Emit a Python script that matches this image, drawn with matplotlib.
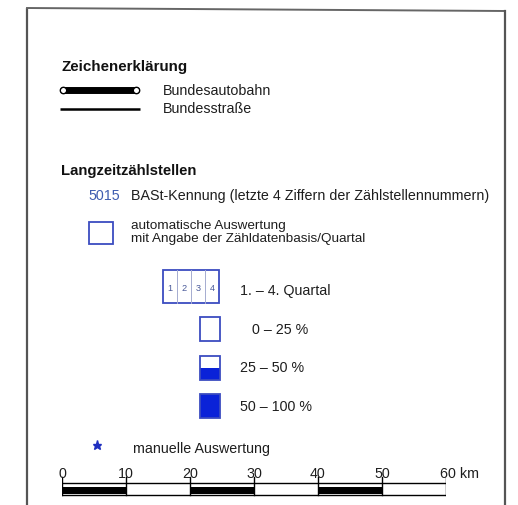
import matplotlib
matplotlib.use("Agg")
import matplotlib.pyplot as plt
from matplotlib.patches import Rectangle

plt.rcParams['font.family'] = ['Liberation Sans', 'DejaVu Sans']

# ---- data ----
title_main = "Zeichenerklärung"
road_labels = ["Bundesautobahn", "Bundesstraße"]
section_title = "Langzeitzählstellen"
id_example = "5015"
id_text = "BASt-Kennung (letzte 4 Ziffern der Zählstellennummern)"
auto_text = ["automatische Auswertung", "mit Angabe der Zähldatenbasis/Quartal"]
quarters = ["1", "2", "3", "4"]
quarter_text = "1. – 4. Quartal"
class_labels = ["0 – 25 %", "25 – 50 %", "50 – 100 %"]
class_fill = [0.0, 0.5, 1.0]          # share of symbol filled
manual_text = "manuelle Auswertung"
scale_km = [0, 10, 20, 30, 40, 50, 60]
scale_labels = ["0", "10", "20", "30", "40", "50", "60 km"]

TXT = "#1e1e1e"
BLUE_LINE = "#3b4cc0"
BLUE_FILL = "#0a22d8"
BLUE_TXT = "#3f5db0"

W, H = 518, 506
fig = plt.figure(figsize=(W / 100, H / 100), dpi=100)
fig.patch.set_facecolor("white")
ax = fig.add_axes([0, 0, 1, 1])
ax.set_xlim(0, W)
ax.set_ylim(H, 0)
ax.axis("off")

# frame
ax.plot([27, 27], [9, H + 5], color="#555555", lw=1.6, solid_capstyle="butt")
ax.plot([27, 505], [9, 12], color="#666666", lw=1.4)
ax.plot([505, 505], [12, H + 5], color="#555555", lw=1.6)

fs = 10.3
ax.text(61, 67, title_main, fontsize=10.9, fontweight="bold", color="#111111", va="center", ha="left")

# Bundesautobahn symbol
ax.plot([63, 136], [91, 91], color="black", lw=5.0, solid_capstyle="round", zorder=2)
ax.plot([63, 136], [91, 91], ls="none", marker="o", ms=4.6, mfc="white", mec="black", mew=1.0, zorder=3)
ax.text(163, 91, road_labels[0], fontsize=fs, color=TXT, va="center", ha="left")
# Bundesstrasse
ax.plot([60, 140], [110, 110], color="black", lw=1.8, solid_capstyle="butt")
ax.text(163, 109, road_labels[1], fontsize=fs, color=TXT, va="center", ha="left")

ax.text(61, 171, section_title, fontsize=10.7, fontweight="bold", color="#111111", va="center", ha="left")
ax.text(88, 196, id_example, fontsize=fs, color=BLUE_TXT, va="center", ha="left")
ax.text(131, 196, id_text, fontsize=fs, color=TXT, va="center", ha="left")

# automatic square
ax.add_patch(Rectangle((89, 223), 24, 22, fill=False, ec=BLUE_LINE, lw=1.3))
ax.text(131, 226, auto_text[0], fontsize=fs - 0.6, color=TXT, va="center", ha="left")
ax.text(131, 239, auto_text[1], fontsize=fs - 0.6, color=TXT, va="center", ha="left")

# quarter box
qx0, qy0, qw, qh = 163, 271, 56, 33
cw = qw / len(quarters)
for i, q in enumerate(quarters):
    if i > 0:
        ax.plot([qx0 + i * cw] * 2, [qy0, qy0 + qh], color="#a5acd0", lw=0.7)
    ax.text(qx0 + (i + 0.5) * cw, qy0 + qh / 2 + 1, q, fontsize=6.6, color="#4a5a9a",
            ha="center", va="center")
ax.add_patch(Rectangle((qx0, qy0), qw, qh, fill=False, ec=BLUE_LINE, lw=1.3))
ax.text(240, 291, quarter_text, fontsize=fs, color=TXT, va="center", ha="left")

# classes
cy = [318, 357, 395]
tx = [252, 240, 240]
ty = [330, 368, 407]
for y0, f, lab, x, yt in zip(cy, class_fill, class_labels, tx, ty):
    h = 24
    if f > 0:
        ax.add_patch(Rectangle((200, y0 + h * (1 - f)), 20, h * f, fc=BLUE_FILL, ec="none"))
    ax.add_patch(Rectangle((200, y0), 20, h, fill=False, ec=BLUE_LINE, lw=1.3))
    ax.text(x, yt, lab, fontsize=fs, color=TXT, va="center", ha="left")

# manual
ax.plot([97], [446], ls="none", marker="*", ms=6.5, color="#1f2fc0")
ax.text(133, 449, manual_text, fontsize=fs, color=TXT, va="center", ha="left")

# scale bar in km coordinates
sax = fig.add_axes([62 / W, 0, 384 / W, 1])
sax.set_xlim(scale_km[0], scale_km[-1])
sax.set_ylim(H, 0)
sax.axis("off")
for i in range(len(scale_km) - 1):
    a, b = scale_km[i], scale_km[i + 1]
    if i % 2 == 0:
        sax.add_patch(Rectangle((a, 487.5), b - a, 7, fc="black", ec="none"))
sax.plot([scale_km[0], scale_km[-1]], [484, 484], color="black", lw=1.0)
sax.plot([scale_km[0], scale_km[-1]], [496, 496], color="black", lw=1.0)
for k, lab in zip(scale_km, scale_labels):
    sax.plot([k, k], [478, 496], color="black", lw=1.0)
    if k == scale_km[-1]:
        sax.annotate(lab, (k, 478.5), xytext=(-4.5, 0), textcoords="offset points",
                     fontsize=fs, color=TXT, ha="left", va="baseline")
    else:
        sax.text(k, 478.5, lab, fontsize=fs, color=TXT, ha="center", va="baseline")

fig.savefig("out.png", dpi=100, facecolor="white")
